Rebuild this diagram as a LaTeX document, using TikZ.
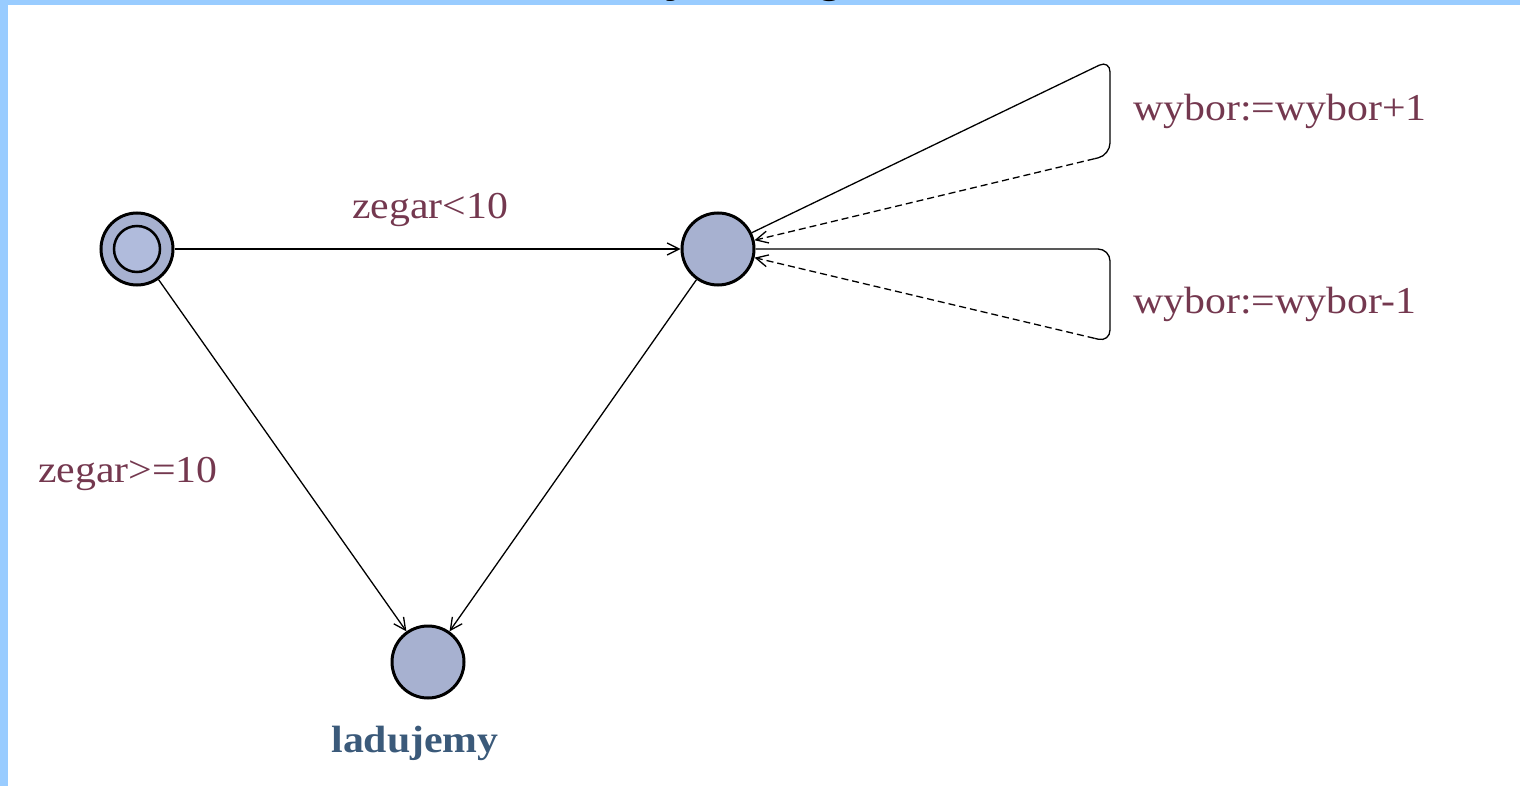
\documentclass[tikz,border=0pt]{standalone}
\usepackage{fontspec}
\setmainfont{Liberation Serif}
\newfontfamily\labfont[FakeStretch=1.1]{Liberation Serif}
\newfontfamily\headfont{Liberation Sans}
\usetikzlibrary{arrows.meta,calc}
\definecolor{band}{HTML}{99CCFF}
\definecolor{statefill}{HTML}{A7B1D0}
\definecolor{innerfill}{HTML}{B0BBDC}
\definecolor{labcol}{HTML}{74384F}
\definecolor{namecol}{HTML}{3B5A7A}
\begin{document}
\begin{tikzpicture}[x=1pt,y=-1pt,
  state/.style={circle,draw=black,line width=3pt,fill=statefill,minimum size=72pt,inner sep=0pt},
  wire/.style={line width=1.3pt},
  back/.style={dash pattern=on 7pt off 4pt},
  tip/.style={-{Straight Barb[length=12pt,width=12pt,line width=1.3pt]}},
  lab/.style={text=labcol,font=\labfont\fontsize{38}{40}\selectfont,anchor=base west,inner sep=0pt},
  head/.style={font=\headfont\bfseries\fontsize{48}{50}\selectfont,anchor=base,inner sep=0pt},
]
\useasboundingbox (0,0) rectangle (1520,786);

% frame band with the foot of the heading
\fill[band] (0,0) rectangle (1520,5);
\fill[band] (0,0) rectangle (8,786);
\begin{scope}
  \clip (0,0) rectangle (1520,786);
  \node[head] (tity) at (678,-8) {y};
  \node[head] (titg) at (830,-8) {g};
\end{scope}

% locations
\node[state] (init) at (137,249) {};
\node[circle,draw=black,line width=2.5pt,fill=innerfill,minimum size=46pt,inner sep=0pt] (initin) at (137,249) {};
\node[state] (mid) at (718,249) {};
\node[state] (land) at (428,662) {};
\node[text=namecol,font=\labfont\bfseries\fontsize{38}{40}\selectfont,anchor=base,inner sep=0pt] (landname) at (415,752) {ladujemy};

% edges
\draw[wire,tip] (init) -- (mid);
\draw[wire,tip] (init) -- (land);
\draw[wire,tip] (mid) -- (land);

% self loops on the middle location
\coordinate (l1t) at (1110,60);
\coordinate (l1b) at (1110,155);
\coordinate (l2t) at (1110,249);
\coordinate (l2b) at (1110,342);
\coordinate (l1e) at ($(l1b)!16pt!(mid)$);
\coordinate (l2e) at ($(l2b)!16pt!(mid)$);
\draw[wire,rounded corners=12pt] (mid) -- (l1t) -- (l1b) -- (l1e);
\draw[wire,back,tip] (l1e) -- (mid);
\draw[wire,rounded corners=12pt] (mid) -- (l2t) -- (l2b) -- (l2e);
\draw[wire,back,tip] (l2e) -- (mid);

% labels
\node[lab] (g1) at (352,219) {zegar<10};
\node[lab] (g2) at (38,482) {zegar>=10};
\node[lab] (u1) at (1133,121) {wybor:=wybor+1};
\node[lab] (u2) at (1133,313) {wybor:=wybor-1};
\end{tikzpicture}
\end{document}
